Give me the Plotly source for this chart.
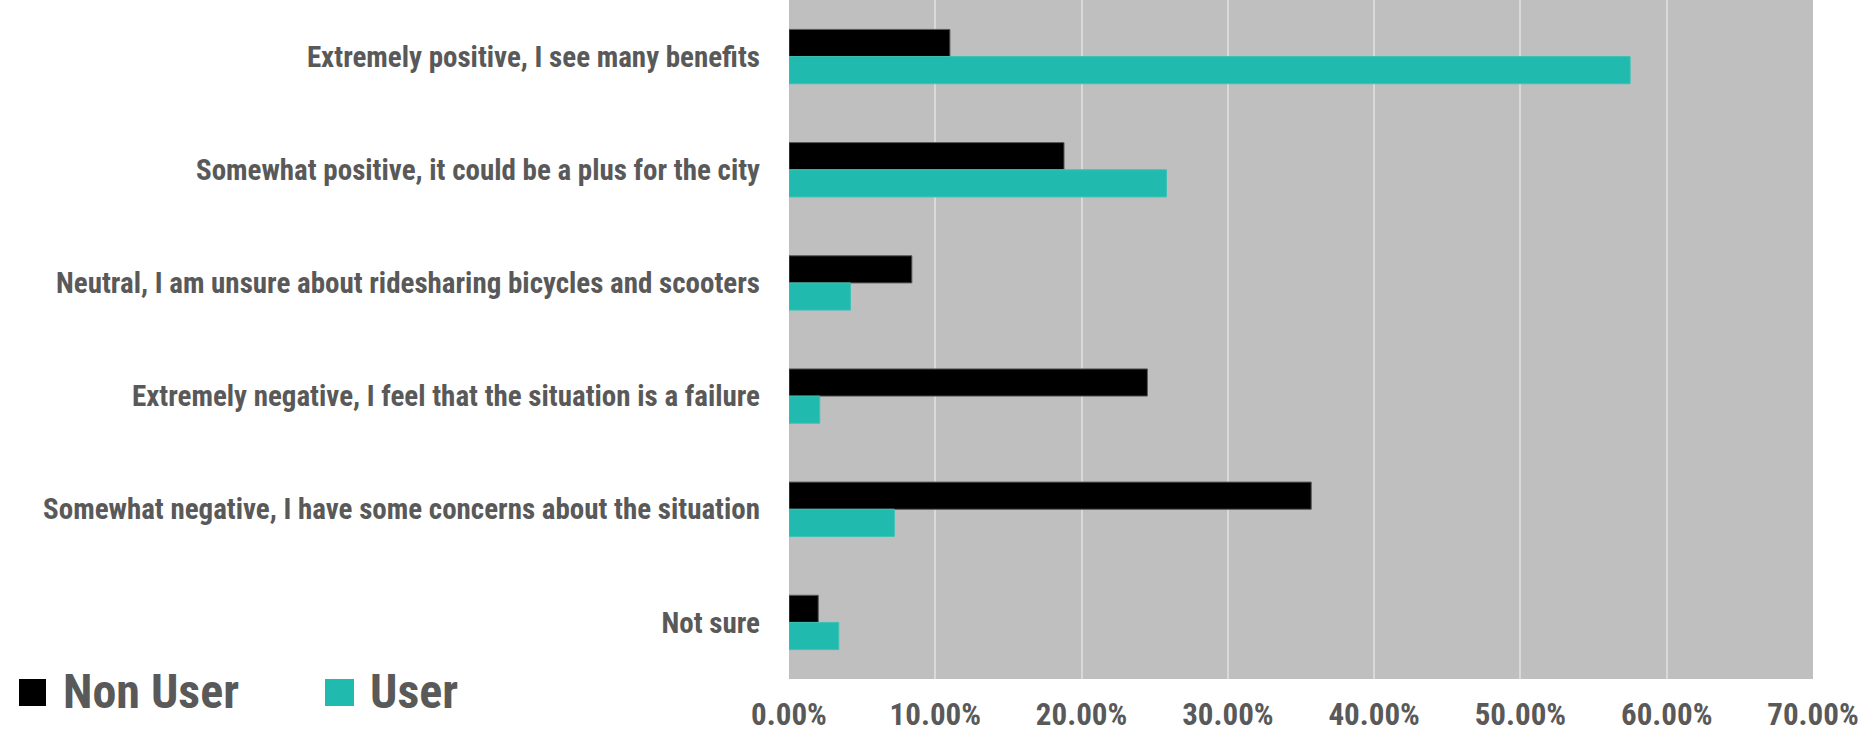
import plotly.graph_objects as go

categories = [
    "Extremely positive, I see many benefits",
    "Somewhat positive, it could be a plus for the city",
    "Neutral, I am unsure about ridesharing bicycles and scooters",
    "Extremely negative, I feel that the situation is a failure",
    "Somewhat negative, I have some concerns about the situation",
    "Not sure",
]
non_user = [0.110, 0.188, 0.084, 0.245, 0.357, 0.020]
user = [0.575, 0.258, 0.042, 0.021, 0.072, 0.034]
series_names = ["Non User", "User"]
series_colors = ["#000000", "#20BBAE"]
x_ticks = [0, 0.1, 0.2, 0.3, 0.4, 0.5, 0.6, 0.7]

FONT = "Roboto Condensed"
TXT = "#595959"

fig = go.Figure()
fig.add_trace(go.Bar(y=categories, x=non_user, name=series_names[0], orientation="h",
                     marker=dict(color=series_colors[0], line=dict(color="#5a5a5a", width=1)),
                     showlegend=False))
fig.add_trace(go.Bar(y=categories, x=user, name=series_names[1], orientation="h",
                     marker=dict(color=series_colors[1], line=dict(color="#3cc2b6", width=1)),
                     showlegend=False))

W, H = 1871, 735
L, R, T, B = 789, 58, 0, 56
pw, ph = W - L - R, H - T - B

def px(x):
    return (x - L) / pw

def py(y):
    return (H - B - y) / ph

# legend: swatches + labels
legend_items = [(19, 46, 61), (325, 354, 368)]
for (x0, x1, tx), name, col in zip(legend_items, series_names, series_colors):
    fig.add_shape(type="rect", xref="paper", yref="paper",
                  x0=px(x0), x1=px(x1), y0=py(679), y1=py(706),
                  fillcolor=col, line=dict(width=0))
    fig.add_annotation(x=px(tx), y=py(691), xref="paper", yref="paper",
                       xanchor="left", yanchor="middle", showarrow=False,
                       text=name,
                       font=dict(family=FONT, size=48, color=TXT, weight="bold"))

fig.update_layout(
    width=W, height=H,
    margin=dict(l=L, r=R, t=T, b=B, pad=0),
    paper_bgcolor="white", plot_bgcolor="#BFBFBF",
    barmode="group", bargap=0.52, bargroupgap=0,
    font=dict(family=FONT, color=TXT),
)
fig.update_xaxes(range=[0, 0.7], tickvals=x_ticks, tickformat=".2%",
                 showgrid=True, gridcolor="#D9D9D9", gridwidth=2,
                 zeroline=False, showline=False, ticks="", automargin=False,
                 ticklabelstandoff=14,
                 tickfont=dict(family=FONT, size=31, color=TXT, weight="bold"))
fig.update_yaxes(categoryorder="array", categoryarray=categories, autorange="reversed",
                 showgrid=False, zeroline=False, showline=False, ticks="", automargin=False,
                 ticklabelstandoff=28,
                 tickfont=dict(family=FONT, size=29, color=TXT, weight="bold"))

fig.write_html("out.html")
